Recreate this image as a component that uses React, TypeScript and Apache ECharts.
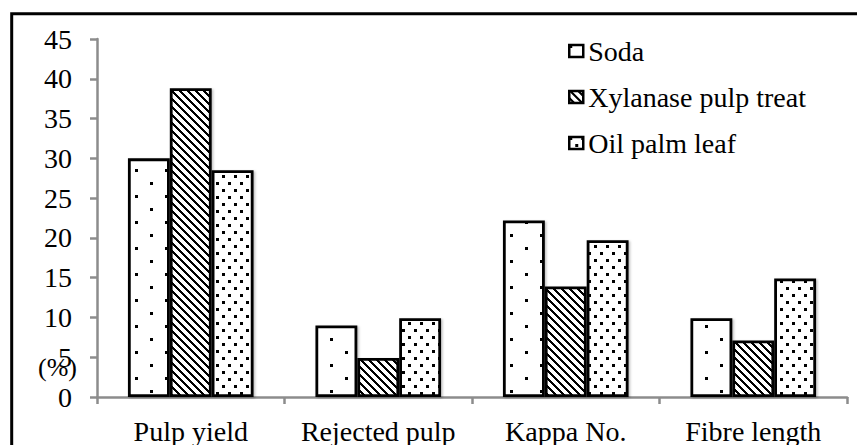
import React, { useEffect, useRef } from 'react';
import * as echarts from 'echarts';

const categories = ['Pulp yield', 'Rejected pulp', 'Kappa No.', 'Fibre length'];
const seriesNames = ['Soda', 'Xylanase pulp treat', 'Oil palm leaf'];
const sodaValues = [30.0, 9.0, 22.2, 9.9];
const xylanaseValues = [38.8, 4.9, 13.9, 7.1];
const oilPalmValues = [28.5, 9.9, 19.7, 14.9];
const yMin = 0;
const yMax = 45;
const yStep = 5;
const yAxisTitle = '(%)';

const FONT = 'Liberation Serif';

function dotTile(w: number, h: number, dots: [number, number][], size: number) {
  const c = document.createElement('canvas');
  c.width = w;
  c.height = h;
  const ctx = c.getContext('2d')!;
  ctx.fillStyle = '#fff';
  ctx.fillRect(0, 0, w, h);
  ctx.fillStyle = '#000';
  dots.forEach(([x, y]) => ctx.fillRect(x, y, size, size));
  return c;
}

function hatchTile(s: number, thick: number) {
  const c = document.createElement('canvas');
  c.width = s;
  c.height = s;
  const ctx = c.getContext('2d')!;
  ctx.fillStyle = '#fff';
  ctx.fillRect(0, 0, s, s);
  ctx.fillStyle = '#000';
  for (let y = 0; y < s; y++) {
    for (let x = 0; x < s; x++) {
      if ((((x - y) % s) + s) % s < thick) ctx.fillRect(x, y, 1, 1);
    }
  }
  return c;
}

function pattern(canvas: HTMLCanvasElement) {
  return {
    image: canvas,
    repeat: 'repeat',
    imageWidth: canvas.width,
    imageHeight: canvas.height,
  } as any;
}

export default function App() {
  const ref = useRef<HTMLDivElement>(null);
  useEffect(() => {
    if (!ref.current) return;
    const chart = echarts.init(ref.current, undefined, { renderer: 'svg' });
    const sodaFill = pattern(dotTile(30, 26, [[0, 0], [15, 13]], 3));
    const xylFill = pattern(hatchTile(8, 3));
    const oilFill = pattern(dotTile(12, 14, [[0, 0], [6, 7]], 3));
    const fills = [sodaFill, xylFill, oilFill];
    const values = [sodaValues, xylanaseValues, oilPalmValues];

    chart.setOption({
      animation: false,
      backgroundColor: '#fff',
      grid: { left: 97, right: 10, top: 39, bottom: 48 },
      legend: {
        orient: 'vertical',
        left: 568,
        top: 37,
        padding: 0,
        itemWidth: 14,
        itemHeight: 12,
        itemGap: 18,
        icon: 'rect',
        textStyle: { fontFamily: FONT, fontSize: 28, color: '#000' },
        itemStyle: { borderColor: '#000', borderWidth: 2.5 },
        data: seriesNames,
      },
      xAxis: {
        type: 'category',
        data: categories,
        axisLine: { lineStyle: { color: '#8c8c8c', width: 2.5 } },
        axisTick: { show: true, length: 7, lineStyle: { color: '#8c8c8c', width: 2.5 } },
        axisLabel: { interval: 0, fontFamily: FONT, fontSize: 28, color: '#000', margin: 20 },
      },
      yAxis: {
        type: 'value',
        min: yMin,
        max: yMax,
        interval: yStep,
        splitLine: { show: false },
        axisLine: { show: true, lineStyle: { color: '#8c8c8c', width: 2.5 } },
        axisTick: { show: true, length: 7, lineStyle: { color: '#8c8c8c', width: 2.5 } },
        axisLabel: { fontFamily: FONT, fontSize: 28, color: '#000', margin: 25 },
      },
      graphic: [
        {
          type: 'rect',
          silent: true,
          shape: { x: 11.7, y: 13.8, width: 900, height: 500 },
          style: { fill: 'none', stroke: '#000', lineWidth: 3 },
        },
        {
          type: 'text',
          silent: true,
          x: 38,
          y: 367,
          style: {
            text: yAxisTitle,
            fontFamily: FONT,
            fontSize: 26,
            fill: '#000',
            verticalAlign: 'middle',
          },
        },
      ],
      series: seriesNames.map((name, i) => ({
        name,
        type: 'bar',
        data: values[i],
        barGap: '0%',
        barCategoryGap: '33%',
        itemStyle: {
          color: fills[i],
          borderColor: '#000',
          borderWidth: 2.8,
          shadowColor: 'rgba(0,0,0,0.25)',
          shadowBlur: 2,
          shadowOffsetX: 1.5,
          shadowOffsetY: 1,
        },
        emphasis: { disabled: true },
      })),
    });
    return () => chart.dispose();
  }, []);
  return (
    <div
      ref={ref}
      style={{ position: 'absolute', left: 0, top: 0, width: 857, height: 445 }}
    />
  );
}
